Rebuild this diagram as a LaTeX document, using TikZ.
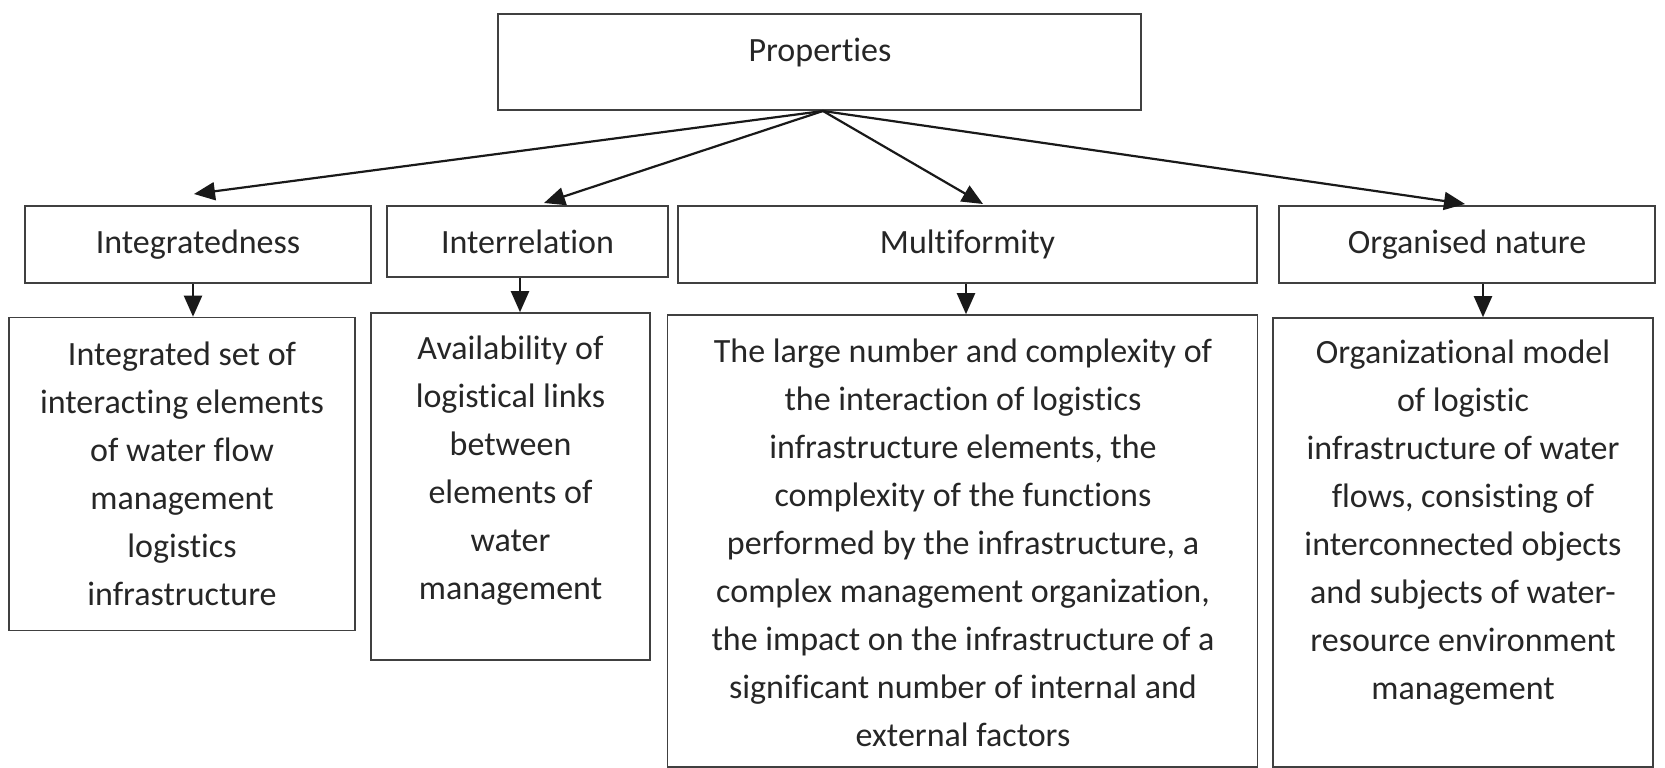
\documentclass[tikz,border=0pt]{standalone}
\usepackage{fontspec}
\setmainfont{Carlito}[Ligatures={NoCommon}]
\usetikzlibrary{arrows.meta,calc}
\begin{document}
\begin{tikzpicture}[x=1pt,y=-1pt,
  box/.style={draw=black!75,line width=1.6pt,rectangle,inner sep=0pt,fill=none},
  ttl/.style={inner sep=0pt,anchor=base,text=black!85,font=\fontsize{34}{48}\selectfont},
  body/.style={inner sep=0pt,anchor=north,align=center,text=black!85,font=\fontsize{34}{48}\selectfont},
  arr/.style={draw=black!90,line width=2.2pt,-{Triangle[length=21pt,width=18pt]}}]
\useasboundingbox (0,0) rectangle (1665,768);
% top box
\node[box,minimum width=643pt,minimum height=96pt] (prop) at (819.5,62) {};
\node[ttl] (propt) at (820,62) {Properties};
\coordinate (apex) at (823,111);
% second row
\node[box,minimum width=346pt,minimum height=77pt] (i1) at (198,244.5) {};
\node[box,minimum width=281pt,minimum height=71pt] (i2) at (527.5,241.5) {};
\node[box,minimum width=579pt,minimum height=77pt] (i3) at (967.5,244.5) {};
\node[box,minimum width=376pt,minimum height=77pt] (i4) at (1467,244.5) {};
\node[ttl] (i1t) at (198,253) {Integratedness};
\node[ttl] (i2t) at (527.5,253) {Interrelation};
\node[ttl] (i3t) at (967.5,253) {Multiformity};
\node[ttl] (i4t) at (1467,253) {Organised nature};
% arrow tips
\coordinate (t1) at (194,194);
\coordinate (t2) at (544,203);
\coordinate (t3) at (983,204);
\coordinate (t4) at (1465,204);
\draw[arr] (apex) -- (t1);
\draw[arr] (apex) -- (t2);
\draw[arr] (apex) -- (t3);
\draw[arr] (apex) -- (t4);
% third row
\node[box,minimum width=346pt,minimum height=313pt] (d1) at (182,474) {};
\node[box,minimum width=279pt,minimum height=347pt] (d2) at (510.5,486.5) {};
\node[box,minimum width=590pt,minimum height=452pt] (d3) at (962.5,541) {};
\node[box,minimum width=380pt,minimum height=449pt] (d4) at (1463,542.5) {};
\node[body] (d1t) at (182,338) {\rule{0pt}{27pt}Integrated set of\\interacting elements\\of water flow\\management\\logistics\\infrastructure};
\node[body] (d2t) at (510.5,332) {\rule{0pt}{27pt}Availability of\\logistical links\\between\\elements of\\water\\management};
\node[body] (d3t) at (963,335) {\rule{0pt}{27pt}The large number and complexity of\\the interaction of logistics\\infrastructure elements, the\\complexity of the functions\\performed by the infrastructure, a\\complex management organization,\\the impact on the infrastructure of a\\significant number of internal and\\external factors};
\node[body] (d4t) at (1463,336) {\rule{0pt}{27pt}Organizational model\\of logistic\\infrastructure of water\\flows, consisting of\\interconnected objects\\and subjects of water-\\resource environment\\management};
% down arrows
\draw[arr] ([xshift=-5pt]i1.south) -- ([xshift=-5pt]i1.south |- d1.north);
\draw[arr] ([xshift=-7.5pt]i2.south) -- ([xshift=-7.5pt]i2.south |- d2.north);
\draw[arr] ([xshift=-1.5pt]i3.south) -- ([xshift=-1.5pt]i3.south |- d3.north);
\draw[arr] ([xshift=16pt]i4.south) -- ([xshift=16pt]i4.south |- d4.north);
\end{tikzpicture}
\end{document}
